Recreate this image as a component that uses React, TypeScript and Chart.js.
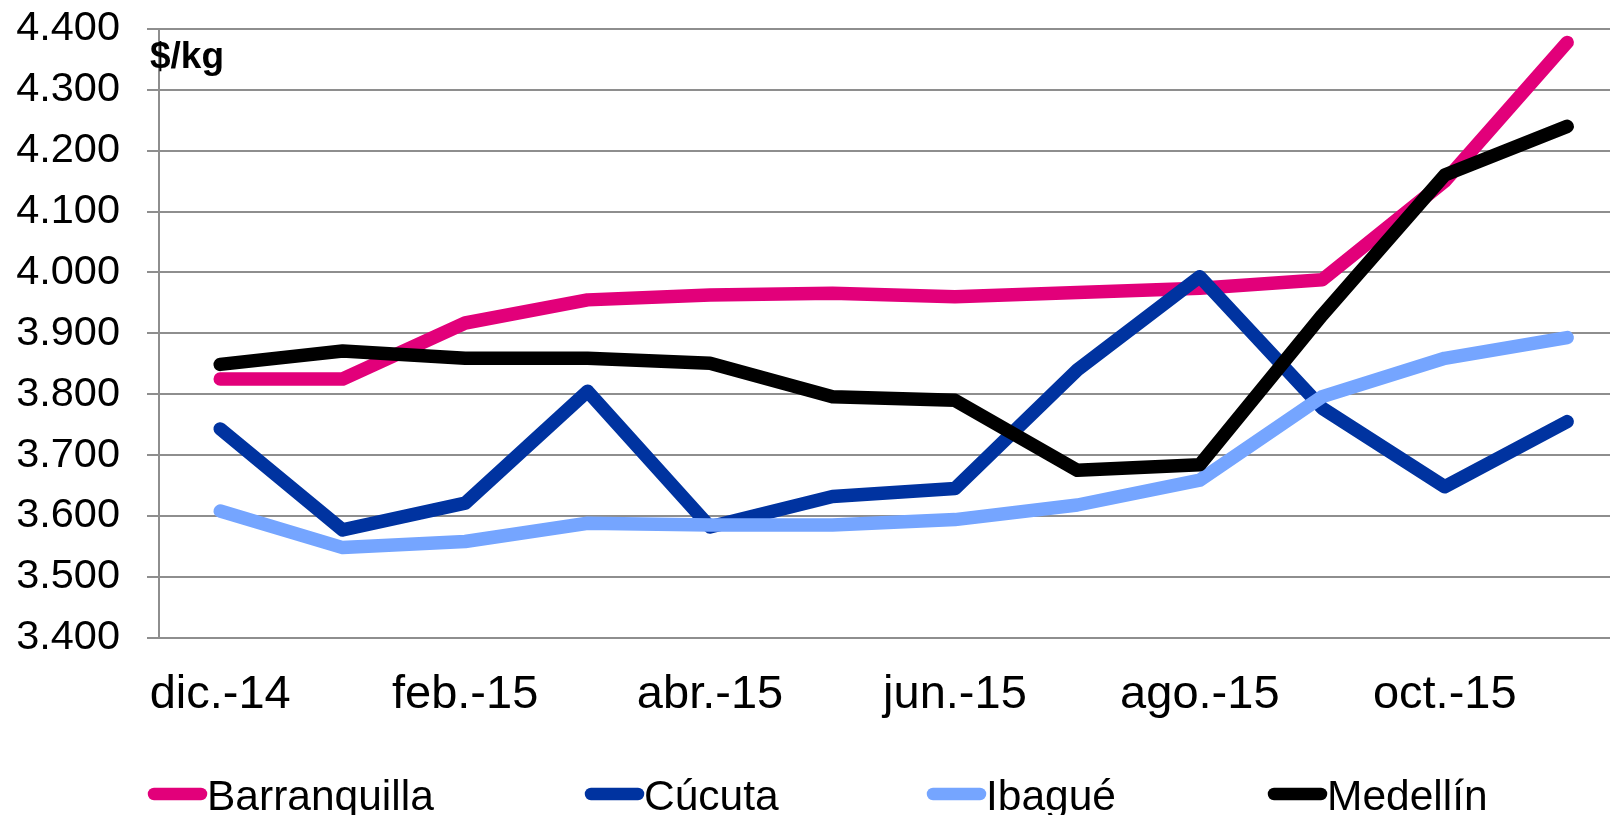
import React, { useEffect, useRef } from 'react';
import { Chart, registerables } from 'chart.js';

Chart.register(...registerables);

const labels = ['dic.-14', 'ene.-15', 'feb.-15', 'mar.-15', 'abr.-15', 'may.-15', 'jun.-15', 'jul.-15', 'ago.-15', 'sep.-15', 'oct.-15', 'nov.-15'];
const barranquilla = [3825, 3825, 3917, 3955, 3963, 3966, 3960, 3967, 3974, 3988, 4150, 4378];
const cucuta = [3743, 3577, 3621, 3805, 3582, 3632, 3645, 3840, 3993, 3777, 3648, 3755];
const ibague = [3608, 3548, 3558, 3588, 3585, 3585, 3594, 3618, 3659, 3796, 3859, 3893];
const medellin = [3849, 3871, 3859, 3859, 3851, 3796, 3790, 3675, 3684, 3930, 4160, 4240];

const seriesNames = ['Barranquilla', 'Cúcuta', 'Ibagué', 'Medellín'];
const seriesColors = ['#E2007A', '#0033A0', '#75A5FF', '#000000'];
const yMin = 3400;
const yMax = 4400;
const yStep = 100;
const unitLabel = '$/kg';

const FONT = "'Liberation Sans', Arial, sans-serif";
const CANVAS_W = 1640;
const CANVAS_H = 815;
const GRID = '#8E8E8E';
const LINE_W = 13.5;

const fmtThousands = (v: number) => {
  const n = Math.round(v);
  const th = Math.floor(n / 1000);
  const rest = String(n % 1000).padStart(3, '0');
  return th > 0 ? `${th}.${rest}` : String(n);
};

const legendSlots = [148, 585, 927, 1268];

const overlayPlugin = {
  id: 'overlay',
  afterDraw(chart: any) {
    const ctx = chart.ctx;
    ctx.save();
    // unit label
    ctx.fillStyle = '#000';
    ctx.font = `bold 37px ${FONT}`;
    ctx.textBaseline = 'alphabetic';
    ctx.textAlign = 'left';
    ctx.fillText(unitLabel, 150, 68);
    // legend
    chart.data.datasets.forEach((ds: any, i: number) => {
      const x = legendSlots[i];
      const y = 794;
      ctx.strokeStyle = ds.borderColor;
      ctx.lineWidth = 12.5;
      ctx.lineCap = 'round';
      ctx.beginPath();
      ctx.moveTo(x + 6, y);
      ctx.lineTo(x + 53, y);
      ctx.stroke();
      ctx.fillStyle = '#000';
      ctx.font = `42.5px ${FONT}`;
      ctx.fillText(ds.label, x + 59, 809.5);
    });
    ctx.restore();
  },
};

export default function App() {
  const ref = useRef<HTMLCanvasElement | null>(null);

  useEffect(() => {
    if (!ref.current) return;
    const series = [barranquilla, cucuta, ibague, medellin];
    const chart = new Chart(ref.current, {
      type: 'line',
      data: {
        labels,
        datasets: series.map((d, i) => ({
          label: seriesNames[i],
          data: d,
          borderColor: seriesColors[i],
          backgroundColor: seriesColors[i],
          borderWidth: LINE_W,
          borderCapStyle: 'round',
          borderJoinStyle: 'round',
          pointRadius: 0,
          tension: 0,
          fill: false,
          order: 4 - i,
        })),
      },
      options: {
        responsive: false,
        animation: false,
        devicePixelRatio: 1,
        layout: { padding: { top: 29, right: CANVAS_W - 1628.4, left: 0, bottom: 0 } },
        plugins: {
          legend: { display: false },
          tooltip: { enabled: false },
        },
        scales: {
          x: {
            offset: true,
            grid: { display: false, drawTicks: false },
            border: { display: true, color: GRID, width: 2 },
            ticks: {
              autoSkip: false,
              maxRotation: 0,
              minRotation: 0,
              padding: 29,
              color: '#000',
              font: { family: FONT, size: 47 },
              callback: (_v: any, i: number) => (i % 2 === 0 ? labels[i] : ''),
            },
            afterFit: (s: any) => {
              s.height = CANVAS_H - 637.7;
              s.paddingLeft = 0;
              s.paddingRight = 0;
            },
          },
          y: {
            min: yMin,
            max: yMax,
            ticks: {
              stepSize: yStep,
              padding: 27,
              color: '#000',
              font: { family: FONT, size: 41.5 },
              callback: (v: any) => fmtThousands(Number(v)),
            },
            grid: { color: GRID, lineWidth: 2, tickLength: 12 },
            border: { display: true, color: GRID, width: 2 },
            afterFit: (s: any) => {
              s.width = 159;
              s.paddingTop = 0;
              s.paddingBottom = 0;
            },
          },
        },
      },
      plugins: [overlayPlugin],
    } as any);
    return () => chart.destroy();
  }, []);

  return (
    <div style={{ position: 'fixed', left: 0, top: 0, width: 1610, height: 815, overflow: 'hidden', background: '#fff' }}>
      <canvas ref={ref} width={CANVAS_W} height={CANVAS_H} style={{ display: 'block', width: CANVAS_W, height: CANVAS_H }} />
    </div>
  );
}
